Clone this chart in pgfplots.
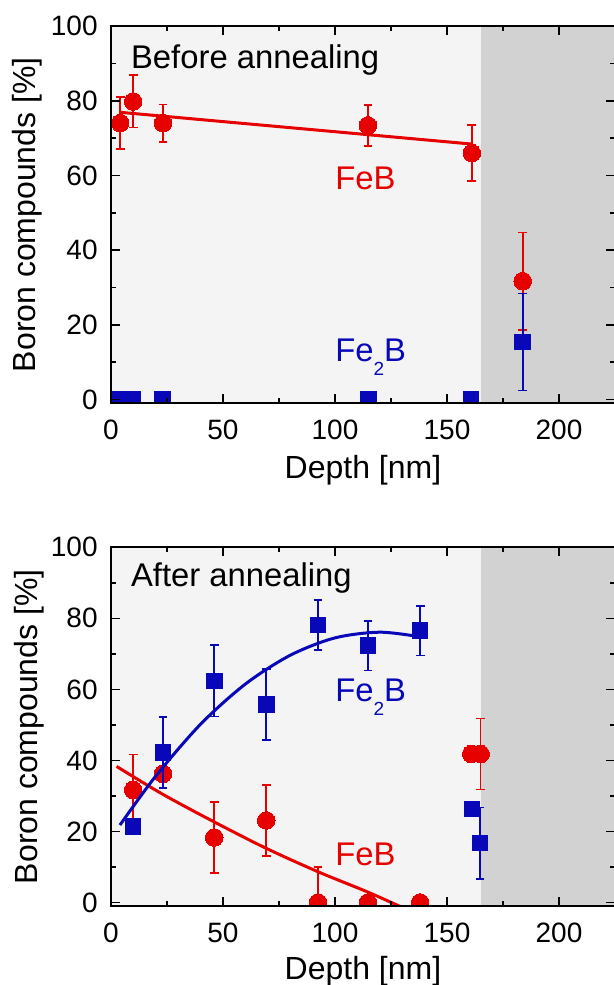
\documentclass[border=0pt]{standalone}
\usepackage{pgfplots}
\pgfplotsset{compat=1.18}
\usepackage{fontspec}
\setmainfont{Liberation Sans}
\definecolor{cred}{RGB}{230,0,0}
\definecolor{cblue}{RGB}{8,8,185}
\definecolor{bglight}{RGB}{244,244,244}
\definecolor{bgdark}{RGB}{210,210,210}
\newcommand{\subtwo}{\raisebox{-6.8pt}{\fontsize{9.5}{10}\selectfont 2}}
\tikzset{annot/.style={font=\fontsize{16.4}{18}\selectfont, anchor=base west, inner sep=0pt}}
\pgfplotsset{
  panel/.style={
    scale only axis, width=252pt,
    xmin=0, xmax=225, ymin=-1, ymax=100,
    xtick={0,50,...,200}, ytick={0,20,...,100},
    minor x tick num=1, minor y tick num=1,
    tick align=inside, tick pos=both,
    major tick length=4.5pt, minor tick length=2.5pt,
    major tick style={black, line width=0.8pt},
    minor tick style={black, line width=0.8pt},
    axis line style={line width=0.9pt, black},
    axis on top,
    clip marker paths=true,
    tick label style={font=\fontsize{14}{16}\selectfont},
    /pgf/number format/assume math mode=true,
    xticklabel style={anchor=base, inner sep=0pt, yshift=-18.2pt},
    yticklabel style={anchor=east, inner sep=0pt, xshift=-6.5pt},
    label style={font=\fontsize{16}{18}\selectfont},
    xlabel={Depth [nm]}, ylabel={Boron compounds [\%]},
  },
  redpts/.style={only marks, mark=*, mark size=4.4pt, color=cred,
    mark options={fill=cred, draw=cred, line width=0pt}},
  bluepts/.style={only marks, mark=square*, mark size=3.9pt, color=cblue,
    mark options={fill=cblue, draw=cblue, line width=0pt}},
  rederr/.style={redpts, error bars/.cd, y dir=both, y explicit,
    error bar style={line width=0.85pt, cred},
    error mark options={rotate=90, mark size=2.2pt, line width=0.85pt, cred}},
  blueerr/.style={bluepts, error bars/.cd, y dir=both, y explicit,
    error bar style={line width=0.85pt, cblue},
    error mark options={rotate=90, mark size=2.2pt, line width=0.85pt, cblue}},
}
\begin{document}
\begin{tikzpicture}
% ---------------- top panel ----------------
\begin{axis}[panel, height=188.65pt,
  at={(55.5pt,-13pt)}, anchor=north west,
  xlabel style={at={(axis description cs:0.5,-0.199)}, anchor=base},
  ylabel style={at={(axis description cs:-0.150,0.5)}, anchor=base},
]
\addplot[draw=none, fill=bglight] coordinates {(-5,-5) (165,-5) (165,105) (-5,105)} -- cycle;
\addplot[draw=none, fill=bgdark] coordinates {(165,-5) (230,-5) (230,105) (165,105)} -- cycle;
\addplot[cred, line width=1.5pt] coordinates {(4,76.9) (161,68.4)};
\addplot[rederr] coordinates {
  (4.1,74.0) +- (0,7.0)
  (9.9,79.8) +- (0,7.0)
  (23.2,74.0) +- (0,5.0)
  (114.7,73.4) +- (0,5.5)
  (161.1,66.0) +- (0,7.5)
  (183.8,31.7) +- (0,13.0)
};
\addplot[bluepts] coordinates {(4,0) (9.7,0) (23,0) (114.9,0) (160.7,0)};
\addplot[blueerr] coordinates {(183.8,15.4) +- (0,13.0)};
\node[annot] at (axis cs:8.8,88.5) {Before annealing};
\node[annot, text=cred] at (axis cs:100,56.2) {FeB};
\node[annot, text=cblue] at (axis cs:100,10.1) {Fe\subtwo B};
\end{axis}
% ---------------- bottom panel ----------------
\begin{axis}[panel, height=179.35pt,
  at={(55.5pt,-273.65pt)}, anchor=north west,
  xlabel style={at={(axis description cs:0.5,-0.2035)}, anchor=base},
  ylabel style={at={(axis description cs:-0.146,0.5)}, anchor=base},
]
\addplot[draw=none, fill=bglight] coordinates {(-5,-5) (165,-5) (165,105) (-5,105)} -- cycle;
\addplot[draw=none, fill=bgdark] coordinates {(165,-5) (230,-5) (230,105) (165,105)} -- cycle;
\addplot[cred, line width=1.5pt, smooth] coordinates {
  (2.5,38.3) (23,30.5) (45.7,22.8) (69.1,15.3) (92.6,8.6) (114,3.1) (129,-1.1) (131,-1.7)};
\addplot[rederr] coordinates {
  (9.9,31.7) +- (0,10)
  (46.1,18.3) +- (0,10)
  (69.3,23.1) +- (0,10)
  (92.4,0) +- (0,10)
  (165.0,41.8) +- (0,10)
};
\addplot[redpts] coordinates {(23.2,36.2) (114.7,0) (138,0) (160.8,41.8)};
\addplot[cblue, line width=1.5pt, smooth] coordinates {
  (4,21.8) (20,35.6) (40,50.2) (60,61.5) (80,69.6) (100,74.5) (120,76.1) (138,74.8)};
\addplot[blueerr] coordinates {
  (23.2,42.3) +- (0,10)
  (46.1,62.4) +- (0,10)
  (69.3,55.8) +- (0,10)
  (92.4,78.1) +- (0,7)
  (114.7,72.3) +- (0,7)
  (138,76.5) +- (0,7)
  (164.7,16.7) +- (0,10)
};
\addplot[bluepts] coordinates {(9.9,21.4) (161.1,26.3)};
\node[annot] at (axis cs:8.8,88.9) {After annealing};
\node[annot, text=cblue] at (axis cs:100,56.5) {Fe\subtwo B};
\node[annot, text=cred] at (axis cs:100,10.4) {FeB};
\end{axis}
\pgfresetboundingbox
\useasboundingbox (0,0) rectangle (307pt,-492.5pt);
\end{tikzpicture}
\end{document}
